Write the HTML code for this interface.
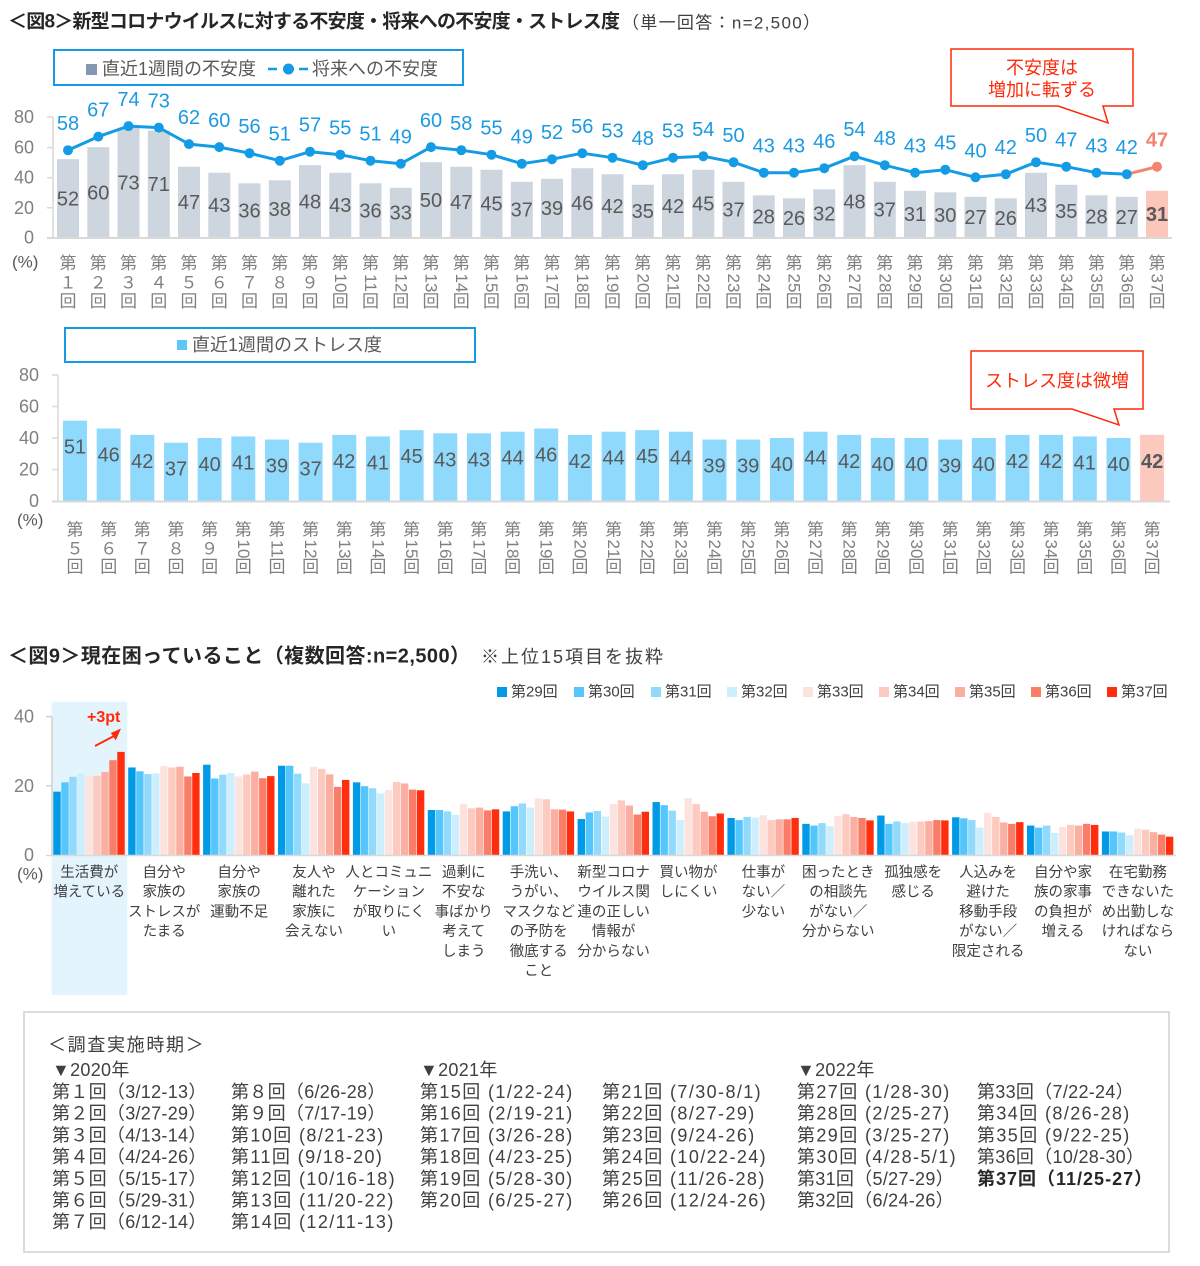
<!DOCTYPE html>
<html><head><meta charset="utf-8">
<style>
body{margin:0;background:#fff}
svg{display:block}
text,tspan{font-family:"Liberation Sans","Noto Sans CJK JP",sans-serif;dominant-baseline:central}
.t{font-size:19px;font-weight:bold;fill:#262626}
.st{font-size:17px;fill:#404040}
.ay{font-size:18px;fill:#808080;text-anchor:end}
.pc{font-size:17px;fill:#595959}
.xl{font-size:17px;fill:#808080;text-anchor:middle}
.rn{font-size:17px;fill:#808080;text-anchor:middle}
.bl{font-size:20px;fill:#595959;text-anchor:middle}
.ll{font-size:20px;fill:#1a9ae2;text-anchor:middle}
.lg{font-size:18px;fill:#595959}
.co{font-size:18px;fill:#ff2a0a;text-anchor:middle}
.fl{font-size:14.5px;fill:#404040;text-anchor:middle}
.fg{font-size:15px;fill:#404040}
.sc{font-size:18px;fill:#404040;letter-spacing:0.3px}
.sh{font-size:18px;fill:#404040;letter-spacing:1.4px}
.s0{fill:#009ae6}.s1{fill:#55c6fb}.s2{fill:#92dafc}.s3{fill:#cdeefd}.s4{fill:#fde3de}.s5{fill:#fdcabf}.s6{fill:#fbafa0}.s7{fill:#f97d68}.s8{fill:#ff2e0e}
</style></head><body>
<svg width="1200" height="1266" viewBox="0 0 1200 1266" xmlns="http://www.w3.org/2000/svg">
<rect width="1200" height="1266" fill="#fff"/>

<!-- ===== Title Fig 8 ===== -->
<text class="t" x="8" y="22" textLength="612" lengthAdjust="spacing">＜図8＞新型コロナウイルスに対する不安度・将来への不安度・ストレス度</text>
<text class="st" x="622" y="23" textLength="198" lengthAdjust="spacing">（単一回答：n=2,500）</text>

<!-- legend top -->
<rect x="54" y="50" width="409" height="35" fill="#fff" stroke="#149be6" stroke-width="2"/>
<rect x="86" y="64" width="11" height="11" fill="#8497b0"/>
<text class="lg" x="102" y="69">直近1週間の不安度</text>
<line x1="268" y1="69" x2="277" y2="69" stroke="#149be6" stroke-width="2.5"/>
<circle cx="288.5" cy="69" r="5.5" fill="#149be6"/>
<line x1="299" y1="69" x2="308" y2="69" stroke="#149be6" stroke-width="2.5"/>
<text class="lg" x="312" y="69">将来への不安度</text>

<!-- y axis top -->
<text class="ay" x="34" y="117">80</text>
<text class="ay" x="34" y="147.6">60</text>
<text class="ay" x="34" y="177.7">40</text>
<text class="ay" x="34" y="207.8">20</text>
<text class="ay" x="34" y="237.5">0</text>
<text class="pc" x="12" y="262">(%)</text>

<!-- top bars -->
<g transform="translate(0 237.5) scale(1 -1.506)" fill="#cdd6df">
<rect x="57" width="22" height="52"/>
<rect x="87.3" width="22" height="60"/>
<rect x="117.5" width="22" height="73"/>
<rect x="147.8" width="22" height="71"/>
<rect x="178" width="22" height="47"/>
<rect x="208.3" width="22" height="43"/>
<rect x="238.5" width="22" height="36"/>
<rect x="268.8" width="22" height="38"/>
<rect x="299" width="22" height="48"/>
<rect x="329.3" width="22" height="43"/>
<rect x="359.5" width="22" height="36"/>
<rect x="389.8" width="22" height="33"/>
<rect x="420" width="22" height="50"/>
<rect x="450.3" width="22" height="47"/>
<rect x="480.5" width="22" height="45"/>
<rect x="510.8" width="22" height="37"/>
<rect x="541" width="22" height="39"/>
<rect x="571.3" width="22" height="46"/>
<rect x="601.5" width="22" height="42"/>
<rect x="631.8" width="22" height="35"/>
<rect x="662" width="22" height="42"/>
<rect x="692.3" width="22" height="45"/>
<rect x="722.5" width="22" height="37"/>
<rect x="752.8" width="22" height="28"/>
<rect x="783" width="22" height="26"/>
<rect x="813.3" width="22" height="32"/>
<rect x="843.5" width="22" height="48"/>
<rect x="873.8" width="22" height="37"/>
<rect x="904" width="22" height="31"/>
<rect x="934.3" width="22" height="30"/>
<rect x="964.5" width="22" height="27"/>
<rect x="994.8" width="22" height="26"/>
<rect x="1025" width="22" height="43"/>
<rect x="1055.3" width="22" height="35"/>
<rect x="1085.5" width="22" height="28"/>
<rect x="1115.8" width="22" height="27"/>
<rect x="1146" width="22" height="31" fill="#fcc6ba"/>
</g>
<!-- top axes -->
<line x1="53" y1="117" x2="53" y2="238" stroke="#d9d9d9" stroke-width="1.5"/>
<g stroke="#d9d9d9" stroke-width="1.5"><line x1="47" y1="117" x2="53" y2="117"/><line x1="47" y1="147.6" x2="53" y2="147.6"/><line x1="47" y1="177.7" x2="53" y2="177.7"/><line x1="47" y1="207.8" x2="53" y2="207.8"/></g>
<line x1="47" y1="238" x2="1172" y2="238" stroke="#d9d9d9" stroke-width="2"/>

<!-- bar labels top -->
<g class="bl">
<text class="bl" x="68" y="199.4">52</text>
<text class="bl" x="98.3" y="193.3">60</text>
<text class="bl" x="128.5" y="183.6">73</text>
<text class="bl" x="158.8" y="185.1">71</text>
<text class="bl" x="189" y="203.1">47</text>
<text class="bl" x="219.3" y="206.1">43</text>
<text class="bl" x="249.5" y="211.4">36</text>
<text class="bl" x="279.8" y="209.9">38</text>
<text class="bl" x="310" y="202.4">48</text>
<text class="bl" x="340.3" y="206.1">43</text>
<text class="bl" x="370.5" y="211.4">36</text>
<text class="bl" x="400.8" y="213.7">33</text>
<text class="bl" x="431" y="200.9">50</text>
<text class="bl" x="461.3" y="203.1">47</text>
<text class="bl" x="491.5" y="204.6">45</text>
<text class="bl" x="521.8" y="210.7">37</text>
<text class="bl" x="552" y="209.2">39</text>
<text class="bl" x="582.3" y="203.9">46</text>
<text class="bl" x="612.5" y="206.9">42</text>
<text class="bl" x="642.8" y="212.2">35</text>
<text class="bl" x="673" y="206.9">42</text>
<text class="bl" x="703.3" y="204.6">45</text>
<text class="bl" x="733.5" y="210.7">37</text>
<text class="bl" x="763.8" y="217.4">28</text>
<text class="bl" x="794" y="218.9">26</text>
<text class="bl" x="824.3" y="214.4">32</text>
<text class="bl" x="854.5" y="202.4">48</text>
<text class="bl" x="884.8" y="210.7">37</text>
<text class="bl" x="915" y="215.2">31</text>
<text class="bl" x="945.3" y="215.9">30</text>
<text class="bl" x="975.5" y="218.2">27</text>
<text class="bl" x="1005.8" y="218.9">26</text>
<text class="bl" x="1036" y="206.1">43</text>
<text class="bl" x="1066.3" y="212.2">35</text>
<text class="bl" x="1096.5" y="217.4">28</text>
<text class="bl" x="1126.8" y="218.2">27</text>
<text class="bl" x="1157" y="215.2" font-weight="bold">31</text>
</g>

<!-- line -->
<polyline fill="none" stroke="#149be6" stroke-width="3" stroke-linejoin="round" points="68,150.2 98.3,136.6 128.5,126.1 158.8,127.6 189,144.1 219.3,147.1 249.5,153.2 279.8,160.7 310,151.7 340.3,154.7 370.5,160.7 400.8,163.7 431,147.1 461.3,150.2 491.5,154.7 521.8,163.7 552,159.2 582.3,153.2 612.5,157.7 642.8,165.2 673,157.7 703.3,156.2 733.5,162.2 763.8,172.7 794,172.7 824.3,168.2 854.5,156.2 884.8,165.2 915,172.7 945.3,169.7 975.5,177.3 1005.8,174.2 1036,162.2 1066.3,166.7 1096.5,172.7 1126.8,174.2"/>
<line x1="1126.8" y1="174.2" x2="1157" y2="166.7" stroke="#f4846f" stroke-width="3"/>
<g fill="#149be6">
<circle cx="68" cy="150.2" r="5"/><circle cx="98.3" cy="136.6" r="5"/><circle cx="128.5" cy="126.1" r="5"/><circle cx="158.8" cy="127.6" r="5"/><circle cx="189" cy="144.1" r="5"/><circle cx="219.3" cy="147.1" r="5"/><circle cx="249.5" cy="153.2" r="5"/><circle cx="279.8" cy="160.7" r="5"/><circle cx="310" cy="151.7" r="5"/><circle cx="340.3" cy="154.7" r="5"/><circle cx="370.5" cy="160.7" r="5"/><circle cx="400.8" cy="163.7" r="5"/><circle cx="431" cy="147.1" r="5"/><circle cx="461.3" cy="150.2" r="5"/><circle cx="491.5" cy="154.7" r="5"/><circle cx="521.8" cy="163.7" r="5"/><circle cx="552" cy="159.2" r="5"/><circle cx="582.3" cy="153.2" r="5"/><circle cx="612.5" cy="157.7" r="5"/><circle cx="642.8" cy="165.2" r="5"/><circle cx="673" cy="157.7" r="5"/><circle cx="703.3" cy="156.2" r="5"/><circle cx="733.5" cy="162.2" r="5"/><circle cx="763.8" cy="172.7" r="5"/><circle cx="794" cy="172.7" r="5"/><circle cx="824.3" cy="168.2" r="5"/><circle cx="854.5" cy="156.2" r="5"/><circle cx="884.8" cy="165.2" r="5"/><circle cx="915" cy="172.7" r="5"/><circle cx="945.3" cy="169.7" r="5"/><circle cx="975.5" cy="177.3" r="5"/><circle cx="1005.8" cy="174.2" r="5"/><circle cx="1036" cy="162.2" r="5"/><circle cx="1066.3" cy="166.7" r="5"/><circle cx="1096.5" cy="172.7" r="5"/><circle cx="1126.8" cy="174.2" r="5"/>
</g>
<circle cx="1157" cy="166.7" r="5" fill="#f4846f"/>

<!-- line labels -->
<text class="ll" x="68" y="124.2">58</text>
<text class="ll" x="98.3" y="110.6">67</text>
<text class="ll" x="128.5" y="100.1">74</text>
<text class="ll" x="158.8" y="101.6">73</text>
<text class="ll" x="189" y="118.1">62</text>
<text class="ll" x="219.3" y="121.1">60</text>
<text class="ll" x="249.5" y="127.2">56</text>
<text class="ll" x="279.8" y="134.7">51</text>
<text class="ll" x="310" y="125.7">57</text>
<text class="ll" x="340.3" y="128.7">55</text>
<text class="ll" x="370.5" y="134.7">51</text>
<text class="ll" x="400.8" y="137.7">49</text>
<text class="ll" x="431" y="121.1">60</text>
<text class="ll" x="461.3" y="124.2">58</text>
<text class="ll" x="491.5" y="128.7">55</text>
<text class="ll" x="521.8" y="137.7">49</text>
<text class="ll" x="552" y="133.2">52</text>
<text class="ll" x="582.3" y="127.2">56</text>
<text class="ll" x="612.5" y="131.7">53</text>
<text class="ll" x="642.8" y="139.2">48</text>
<text class="ll" x="673" y="131.7">53</text>
<text class="ll" x="703.3" y="130.2">54</text>
<text class="ll" x="733.5" y="136.2">50</text>
<text class="ll" x="763.8" y="146.7">43</text>
<text class="ll" x="794" y="146.7">43</text>
<text class="ll" x="824.3" y="142.2">46</text>
<text class="ll" x="854.5" y="130.2">54</text>
<text class="ll" x="884.8" y="139.2">48</text>
<text class="ll" x="915" y="146.7">43</text>
<text class="ll" x="945.3" y="143.7">45</text>
<text class="ll" x="975.5" y="151.3">40</text>
<text class="ll" x="1005.8" y="148.2">42</text>
<text class="ll" x="1036" y="136.2">50</text>
<text class="ll" x="1066.3" y="140.7">47</text>
<text class="ll" x="1096.5" y="146.7">43</text>
<text class="ll" x="1126.8" y="148.2">42</text>
<text class="ll" x="1157" y="140.7" font-weight="bold" style="fill:#f4846f">47</text>

<!-- top x labels -->
<text class="xl" y="263.5" x="68 98.3 128.5 158.8 189 219.3 249.5 279.8 310 340.3 370.5 400.8 431 461.3 491.5 521.8 552 582.3 612.5 642.8 673 703.3 733.5 763.8 794 824.3 854.5 884.8 915 945.3 975.5 1005.8 1036 1066.3 1096.5 1126.8 1157">第第第第第第第第第第第第第第第第第第第第第第第第第第第第第第第第第第第第第</text>
<text class="xl" y="283" x="68 98.3 128.5 158.8 189 219.3 249.5 279.8 310">１２３４５６７８９</text>
<text class="rn" transform="translate(340.3 283) rotate(90)">10</text>
<text class="rn" transform="translate(370.5 283) rotate(90)">11</text>
<text class="rn" transform="translate(400.8 283) rotate(90)">12</text>
<text class="rn" transform="translate(431 283) rotate(90)">13</text>
<text class="rn" transform="translate(461.3 283) rotate(90)">14</text>
<text class="rn" transform="translate(491.5 283) rotate(90)">15</text>
<text class="rn" transform="translate(521.8 283) rotate(90)">16</text>
<text class="rn" transform="translate(552 283) rotate(90)">17</text>
<text class="rn" transform="translate(582.3 283) rotate(90)">18</text>
<text class="rn" transform="translate(612.5 283) rotate(90)">19</text>
<text class="rn" transform="translate(642.8 283) rotate(90)">20</text>
<text class="rn" transform="translate(673 283) rotate(90)">21</text>
<text class="rn" transform="translate(703.3 283) rotate(90)">22</text>
<text class="rn" transform="translate(733.5 283) rotate(90)">23</text>
<text class="rn" transform="translate(763.8 283) rotate(90)">24</text>
<text class="rn" transform="translate(794 283) rotate(90)">25</text>
<text class="rn" transform="translate(824.3 283) rotate(90)">26</text>
<text class="rn" transform="translate(854.5 283) rotate(90)">27</text>
<text class="rn" transform="translate(884.8 283) rotate(90)">28</text>
<text class="rn" transform="translate(915 283) rotate(90)">29</text>
<text class="rn" transform="translate(945.3 283) rotate(90)">30</text>
<text class="rn" transform="translate(975.5 283) rotate(90)">31</text>
<text class="rn" transform="translate(1005.8 283) rotate(90)">32</text>
<text class="rn" transform="translate(1036 283) rotate(90)">33</text>
<text class="rn" transform="translate(1066.3 283) rotate(90)">34</text>
<text class="rn" transform="translate(1096.5 283) rotate(90)">35</text>
<text class="rn" transform="translate(1126.8 283) rotate(90)">36</text>
<text class="rn" transform="translate(1157 283) rotate(90)">37</text>
<text class="xl" y="301.5" x="68 98.3 128.5 158.8 189 219.3 249.5 279.8 310 340.3 370.5 400.8 431 461.3 491.5 521.8 552 582.3 612.5 642.8 673 703.3 733.5 763.8 794 824.3 854.5 884.8 915 945.3 975.5 1005.8 1036 1066.3 1096.5 1126.8 1157">回回回回回回回回回回回回回回回回回回回回回回回回回回回回回回回回回回回回回</text>

<!-- callout 1 -->
<path d="M951,49 H1133 V106 H1103 L1108,123 L1058,106 H951 Z" fill="#fff" stroke="#ff2a0a" stroke-width="1.5"/>
<text class="co" x="1042" y="68">不安度は</text>
<text class="co" x="1042" y="90">増加に転ずる</text>

<!-- ===== Stress chart ===== -->
<rect x="65" y="328" width="410" height="34" fill="#fff" stroke="#149be6" stroke-width="2"/>
<rect x="177" y="340" width="10" height="10" fill="#5bc8f8"/>
<text class="lg" x="192" y="345">直近1週間のストレス度</text>

<text class="ay" x="39" y="375">80</text>
<text class="ay" x="39" y="406.5">60</text>
<text class="ay" x="39" y="438">40</text>
<text class="ay" x="39" y="469.5">20</text>
<text class="ay" x="39" y="501">0</text>
<text class="pc" x="17" y="520">(%)</text>

<g transform="translate(0 501) scale(1 -1.575)" fill="#8fd9fc">
<rect x="63" width="24" height="51"/>
<rect x="96.7" width="24" height="46"/>
<rect x="130.3" width="24" height="42"/>
<rect x="164" width="24" height="37"/>
<rect x="197.6" width="24" height="40"/>
<rect x="231.3" width="24" height="41"/>
<rect x="265" width="24" height="39"/>
<rect x="298.6" width="24" height="37"/>
<rect x="332.3" width="24" height="42"/>
<rect x="365.9" width="24" height="41"/>
<rect x="399.6" width="24" height="45"/>
<rect x="433.3" width="24" height="43"/>
<rect x="466.9" width="24" height="43"/>
<rect x="500.6" width="24" height="44"/>
<rect x="534.2" width="24" height="46"/>
<rect x="567.9" width="24" height="42"/>
<rect x="601.6" width="24" height="44"/>
<rect x="635.2" width="24" height="45"/>
<rect x="668.9" width="24" height="44"/>
<rect x="702.5" width="24" height="39"/>
<rect x="736.2" width="24" height="39"/>
<rect x="769.9" width="24" height="40"/>
<rect x="803.5" width="24" height="44"/>
<rect x="837.2" width="24" height="42"/>
<rect x="870.8" width="24" height="40"/>
<rect x="904.5" width="24" height="40"/>
<rect x="938.2" width="24" height="39"/>
<rect x="971.8" width="24" height="40"/>
<rect x="1005.5" width="24" height="42"/>
<rect x="1039.1" width="24" height="42"/>
<rect x="1072.8" width="24" height="41"/>
<rect x="1106.5" width="24" height="40"/>
<rect x="1140.1" width="24" height="42" fill="#fcc9bf"/>
</g>
<line x1="58" y1="375" x2="58" y2="501" stroke="#d9d9d9" stroke-width="1.5"/>
<g stroke="#d9d9d9" stroke-width="1.5"><line x1="52" y1="375" x2="58" y2="375"/><line x1="52" y1="406.5" x2="58" y2="406.5"/><line x1="52" y1="438" x2="58" y2="438"/><line x1="52" y1="469.5" x2="58" y2="469.5"/></g>
<line x1="52" y1="501.5" x2="1170" y2="501.5" stroke="#d9d9d9" stroke-width="2"/>

<text class="bl" x="75" y="447.7">51</text>
<text class="bl" x="108.7" y="455.5">46</text>
<text class="bl" x="142.3" y="461.8">42</text>
<text class="bl" x="176" y="469.7">37</text>
<text class="bl" x="209.6" y="465">40</text>
<text class="bl" x="243.3" y="463.4">41</text>
<text class="bl" x="277" y="466.6">39</text>
<text class="bl" x="310.6" y="469.7">37</text>
<text class="bl" x="344.3" y="461.8">42</text>
<text class="bl" x="377.9" y="463.4">41</text>
<text class="bl" x="411.6" y="457.1">45</text>
<text class="bl" x="445.3" y="460.3">43</text>
<text class="bl" x="478.9" y="460.3">43</text>
<text class="bl" x="512.6" y="458.7">44</text>
<text class="bl" x="546.2" y="455.5">46</text>
<text class="bl" x="579.9" y="461.8">42</text>
<text class="bl" x="613.6" y="458.7">44</text>
<text class="bl" x="647.2" y="457.1">45</text>
<text class="bl" x="680.9" y="458.7">44</text>
<text class="bl" x="714.5" y="466.6">39</text>
<text class="bl" x="748.2" y="466.6">39</text>
<text class="bl" x="781.9" y="465">40</text>
<text class="bl" x="815.5" y="458.7">44</text>
<text class="bl" x="849.2" y="461.8">42</text>
<text class="bl" x="882.8" y="465">40</text>
<text class="bl" x="916.5" y="465">40</text>
<text class="bl" x="950.2" y="466.6">39</text>
<text class="bl" x="983.8" y="465">40</text>
<text class="bl" x="1017.5" y="461.8">42</text>
<text class="bl" x="1051.1" y="461.8">42</text>
<text class="bl" x="1084.8" y="463.4">41</text>
<text class="bl" x="1118.5" y="465">40</text>
<text class="bl" x="1152.1" y="461.8" font-weight="bold">42</text>

<text class="xl" y="530" x="75 108.7 142.3 176 209.6 243.3 277 310.6 344.3 377.9 411.6 445.3 478.9 512.6 546.2 579.9 613.6 647.2 680.9 714.5 748.2 781.9 815.5 849.2 882.8 916.5 950.2 983.8 1017.5 1051.1 1084.8 1118.5 1152.1">第第第第第第第第第第第第第第第第第第第第第第第第第第第第第第第第第</text>
<text class="xl" y="549" x="75 108.7 142.3 176 209.6">５６７８９</text>
<text class="rn" transform="translate(243.3 549) rotate(90)">10</text>
<text class="rn" transform="translate(277 549) rotate(90)">11</text>
<text class="rn" transform="translate(310.6 549) rotate(90)">12</text>
<text class="rn" transform="translate(344.3 549) rotate(90)">13</text>
<text class="rn" transform="translate(377.9 549) rotate(90)">14</text>
<text class="rn" transform="translate(411.6 549) rotate(90)">15</text>
<text class="rn" transform="translate(445.3 549) rotate(90)">16</text>
<text class="rn" transform="translate(478.9 549) rotate(90)">17</text>
<text class="rn" transform="translate(512.6 549) rotate(90)">18</text>
<text class="rn" transform="translate(546.2 549) rotate(90)">19</text>
<text class="rn" transform="translate(579.9 549) rotate(90)">20</text>
<text class="rn" transform="translate(613.6 549) rotate(90)">21</text>
<text class="rn" transform="translate(647.2 549) rotate(90)">22</text>
<text class="rn" transform="translate(680.9 549) rotate(90)">23</text>
<text class="rn" transform="translate(714.5 549) rotate(90)">24</text>
<text class="rn" transform="translate(748.2 549) rotate(90)">25</text>
<text class="rn" transform="translate(781.9 549) rotate(90)">26</text>
<text class="rn" transform="translate(815.5 549) rotate(90)">27</text>
<text class="rn" transform="translate(849.2 549) rotate(90)">28</text>
<text class="rn" transform="translate(882.8 549) rotate(90)">29</text>
<text class="rn" transform="translate(916.5 549) rotate(90)">30</text>
<text class="rn" transform="translate(950.2 549) rotate(90)">31</text>
<text class="rn" transform="translate(983.8 549) rotate(90)">32</text>
<text class="rn" transform="translate(1017.5 549) rotate(90)">33</text>
<text class="rn" transform="translate(1051.1 549) rotate(90)">34</text>
<text class="rn" transform="translate(1084.8 549) rotate(90)">35</text>
<text class="rn" transform="translate(1118.5 549) rotate(90)">36</text>
<text class="rn" transform="translate(1152.1 549) rotate(90)">37</text>
<text class="xl" y="567" x="75 108.7 142.3 176 209.6 243.3 277 310.6 344.3 377.9 411.6 445.3 478.9 512.6 546.2 579.9 613.6 647.2 680.9 714.5 748.2 781.9 815.5 849.2 882.8 916.5 950.2 983.8 1017.5 1051.1 1084.8 1118.5 1152.1">回回回回回回回回回回回回回回回回回回回回回回回回回回回回回回回回回</text>

<!-- callout 2 -->
<path d="M971,351 H1143 V409 H1114 L1119,425 L1072,409 H971 Z" fill="#fff" stroke="#ff2a0a" stroke-width="1.5"/>
<text class="co" x="1057" y="381">ストレス度は微増</text>

<!-- ===== Fig 9 ===== -->
<text class="t" x="8" y="656.5" font-size="20" style="font-size:20px" textLength="462" lengthAdjust="spacing">＜図9＞現在困っていること（複数回答:n=2,500）</text>
<text class="st" x="481" y="657" style="font-size:18px" textLength="182" lengthAdjust="spacing">※上位15項目を抜粋</text>

<!-- legend -->
<rect x="497" y="687" width="10" height="10" class="s0"/><text class="fg" x="511" y="692">第29回</text>
<rect x="574" y="687" width="10" height="10" class="s1"/><text class="fg" x="588" y="692">第30回</text>
<rect x="651" y="687" width="10" height="10" class="s2"/><text class="fg" x="665" y="692">第31回</text>
<rect x="727" y="687" width="10" height="10" class="s3"/><text class="fg" x="741" y="692">第32回</text>
<rect x="803" y="687" width="10" height="10" class="s4"/><text class="fg" x="817" y="692">第33回</text>
<rect x="879" y="687" width="10" height="10" class="s5"/><text class="fg" x="893" y="692">第34回</text>
<rect x="955" y="687" width="10" height="10" class="s6"/><text class="fg" x="969" y="692">第35回</text>
<rect x="1031" y="687" width="10" height="10" class="s7"/><text class="fg" x="1045" y="692">第36回</text>
<rect x="1107" y="687" width="10" height="10" class="s8"/><text class="fg" x="1121" y="692">第37回</text>

<!-- highlight -->
<rect x="51.7" y="701.7" width="75.6" height="293.3" fill="#e4f4fd"/>

<text class="ay" x="34" y="716.6">40</text>
<text class="ay" x="34" y="785.8">20</text>
<text class="ay" x="34" y="855">0</text>
<text class="pc" x="17" y="874">(%)</text>

<!-- bars fig9 -->
<g transform="translate(53.3 855) scale(1 -3.46)">
<rect x="0" width="7.4" height="18.3" class="s0"/><rect x="8" width="7.4" height="21" class="s1"/><rect x="16" width="7.4" height="22.6" class="s2"/><rect x="24" width="7.4" height="23.6" class="s3"/><rect x="32" width="7.4" height="22.9" class="s4"/><rect x="40" width="7.4" height="22.9" class="s5"/><rect x="48" width="7.4" height="24" class="s6"/><rect x="56" width="7.4" height="27.4" class="s7"/><rect x="64" width="7.4" height="29.8" class="s8"/>
</g>
<g transform="translate(128.2 855) scale(1 -3.46)">
<rect x="0" width="7.4" height="25.3" class="s0"/><rect x="8" width="7.4" height="24.2" class="s1"/><rect x="16" width="7.4" height="23.4" class="s2"/><rect x="24" width="7.4" height="23.6" class="s3"/><rect x="32" width="7.4" height="25.7" class="s4"/><rect x="40" width="7.4" height="25.3" class="s5"/><rect x="48" width="7.4" height="25.5" class="s6"/><rect x="56" width="7.4" height="22.7" class="s7"/><rect x="64" width="7.4" height="23.7" class="s8"/>
</g>
<g transform="translate(203.1 855) scale(1 -3.46)">
<rect x="0" width="7.4" height="26.1" class="s0"/><rect x="8" width="7.4" height="22.1" class="s1"/><rect x="16" width="7.4" height="23.2" class="s2"/><rect x="24" width="7.4" height="23.7" class="s3"/><rect x="32" width="7.4" height="22.7" class="s4"/><rect x="40" width="7.4" height="23.3" class="s5"/><rect x="48" width="7.4" height="24.1" class="s6"/><rect x="56" width="7.4" height="22.2" class="s7"/><rect x="64" width="7.4" height="22.8" class="s8"/>
</g>
<g transform="translate(278 855) scale(1 -3.46)">
<rect x="0" width="7.4" height="25.8" class="s0"/><rect x="8" width="7.4" height="25.8" class="s1"/><rect x="16" width="7.4" height="23.5" class="s2"/><rect x="24" width="7.4" height="20.7" class="s3"/><rect x="32" width="7.4" height="25.5" class="s4"/><rect x="40" width="7.4" height="24.9" class="s5"/><rect x="48" width="7.4" height="23.3" class="s6"/><rect x="56" width="7.4" height="19.7" class="s7"/><rect x="64" width="7.4" height="21.7" class="s8"/>
</g>
<g transform="translate(352.9 855) scale(1 -3.46)">
<rect x="0" width="7.4" height="21" class="s0"/><rect x="8" width="7.4" height="19.9" class="s1"/><rect x="16" width="7.4" height="19.3" class="s2"/><rect x="24" width="7.4" height="17.8" class="s3"/><rect x="32" width="7.4" height="18.8" class="s4"/><rect x="40" width="7.4" height="21.1" class="s5"/><rect x="48" width="7.4" height="20.7" class="s6"/><rect x="56" width="7.4" height="18.9" class="s7"/><rect x="64" width="7.4" height="18.7" class="s8"/>
</g>
<g transform="translate(427.8 855) scale(1 -3.46)">
<rect x="0" width="7.4" height="13" class="s0"/><rect x="8" width="7.4" height="13" class="s1"/><rect x="16" width="7.4" height="12.6" class="s2"/><rect x="24" width="7.4" height="11.6" class="s3"/><rect x="32" width="7.4" height="14.7" class="s4"/><rect x="40" width="7.4" height="13.5" class="s5"/><rect x="48" width="7.4" height="13.7" class="s6"/><rect x="56" width="7.4" height="12.9" class="s7"/><rect x="64" width="7.4" height="13.2" class="s8"/>
</g>
<g transform="translate(502.7 855) scale(1 -3.46)">
<rect x="0" width="7.4" height="12.6" class="s0"/><rect x="8" width="7.4" height="14.1" class="s1"/><rect x="16" width="7.4" height="14.9" class="s2"/><rect x="24" width="7.4" height="13.7" class="s3"/><rect x="32" width="7.4" height="16.4" class="s4"/><rect x="40" width="7.4" height="16.1" class="s5"/><rect x="48" width="7.4" height="13.2" class="s6"/><rect x="56" width="7.4" height="13.1" class="s7"/><rect x="64" width="7.4" height="12.6" class="s8"/>
</g>
<g transform="translate(577.6 855) scale(1 -3.46)">
<rect x="0" width="7.4" height="10.4" class="s0"/><rect x="8" width="7.4" height="12.3" class="s1"/><rect x="16" width="7.4" height="12.7" class="s2"/><rect x="24" width="7.4" height="11.1" class="s3"/><rect x="32" width="7.4" height="14.7" class="s4"/><rect x="40" width="7.4" height="15.8" class="s5"/><rect x="48" width="7.4" height="14.3" class="s6"/><rect x="56" width="7.4" height="11.7" class="s7"/><rect x="64" width="7.4" height="12.5" class="s8"/>
</g>
<g transform="translate(652.5 855) scale(1 -3.46)">
<rect x="0" width="7.4" height="15.3" class="s0"/><rect x="8" width="7.4" height="14.4" class="s1"/><rect x="16" width="7.4" height="12.8" class="s2"/><rect x="24" width="7.4" height="10.1" class="s3"/><rect x="32" width="7.4" height="16.4" class="s4"/><rect x="40" width="7.4" height="14.7" class="s5"/><rect x="48" width="7.4" height="12.5" class="s6"/><rect x="56" width="7.4" height="11.2" class="s7"/><rect x="64" width="7.4" height="12" class="s8"/>
</g>
<g transform="translate(727.4 855) scale(1 -3.46)">
<rect x="0" width="7.4" height="10.7" class="s0"/><rect x="8" width="7.4" height="10.1" class="s1"/><rect x="16" width="7.4" height="11" class="s2"/><rect x="24" width="7.4" height="10.8" class="s3"/><rect x="32" width="7.4" height="11.5" class="s4"/><rect x="40" width="7.4" height="10.1" class="s5"/><rect x="48" width="7.4" height="10.3" class="s6"/><rect x="56" width="7.4" height="10.3" class="s7"/><rect x="64" width="7.4" height="10.7" class="s8"/>
</g>
<g transform="translate(802.3 855) scale(1 -3.46)">
<rect x="0" width="7.4" height="9" class="s0"/><rect x="8" width="7.4" height="8.5" class="s1"/><rect x="16" width="7.4" height="9.2" class="s2"/><rect x="24" width="7.4" height="8.3" class="s3"/><rect x="32" width="7.4" height="11.3" class="s4"/><rect x="40" width="7.4" height="11.8" class="s5"/><rect x="48" width="7.4" height="11" class="s6"/><rect x="56" width="7.4" height="10.7" class="s7"/><rect x="64" width="7.4" height="10" class="s8"/>
</g>
<g transform="translate(877.2 855) scale(1 -3.46)">
<rect x="0" width="7.4" height="11.4" class="s0"/><rect x="8" width="7.4" height="9" class="s1"/><rect x="16" width="7.4" height="9.7" class="s2"/><rect x="24" width="7.4" height="9.2" class="s3"/><rect x="32" width="7.4" height="9.6" class="s4"/><rect x="40" width="7.4" height="9.7" class="s5"/><rect x="48" width="7.4" height="9.8" class="s6"/><rect x="56" width="7.4" height="10.1" class="s7"/><rect x="64" width="7.4" height="10" class="s8"/>
</g>
<g transform="translate(952.1 855) scale(1 -3.46)">
<rect x="0" width="7.4" height="10.9" class="s0"/><rect x="8" width="7.4" height="10.6" class="s1"/><rect x="16" width="7.4" height="10.1" class="s2"/><rect x="24" width="7.4" height="7.9" class="s3"/><rect x="32" width="7.4" height="12.2" class="s4"/><rect x="40" width="7.4" height="11" class="s5"/><rect x="48" width="7.4" height="9.4" class="s6"/><rect x="56" width="7.4" height="9" class="s7"/><rect x="64" width="7.4" height="9.5" class="s8"/>
</g>
<g transform="translate(1027 855) scale(1 -3.46)">
<rect x="0" width="7.4" height="8.5" class="s0"/><rect x="8" width="7.4" height="7.9" class="s1"/><rect x="16" width="7.4" height="8.5" class="s2"/><rect x="24" width="7.4" height="6.4" class="s3"/><rect x="32" width="7.4" height="8.1" class="s4"/><rect x="40" width="7.4" height="8.7" class="s5"/><rect x="48" width="7.4" height="8.5" class="s6"/><rect x="56" width="7.4" height="9" class="s7"/><rect x="64" width="7.4" height="8.7" class="s8"/>
</g>
<g transform="translate(1101.9 855) scale(1 -3.46)">
<rect x="0" width="7.4" height="6.8" class="s0"/><rect x="8" width="7.4" height="6.8" class="s1"/><rect x="16" width="7.4" height="6.5" class="s2"/><rect x="24" width="7.4" height="5.7" class="s3"/><rect x="32" width="7.4" height="7.6" class="s4"/><rect x="40" width="7.4" height="7.3" class="s5"/><rect x="48" width="7.4" height="6.6" class="s6"/><rect x="56" width="7.4" height="5.9" class="s7"/><rect x="64" width="7.4" height="5.3" class="s8"/>
</g>

<line x1="52" y1="716.6" x2="52" y2="855" stroke="#d0d0d0" stroke-width="1.5"/>
<g stroke="#d0d0d0" stroke-width="1.5"><line x1="46" y1="716.6" x2="52" y2="716.6"/><line x1="46" y1="785.8" x2="52" y2="785.8"/></g>
<line x1="46" y1="855.5" x2="1176" y2="855.5" stroke="#d9d9d9" stroke-width="1.5"/>

<!-- +3pt -->
<text x="87" y="717.5" font-size="16" font-weight="bold" fill="#ff2a0a">+3pt</text>
<line x1="95" y1="746" x2="114" y2="736" stroke="#ff2a0a" stroke-width="2"/>
<polygon points="121,728.5 115.8,740.4 110.8,733" fill="#ff2a0a"/>

<!-- fig9 x labels -->
<text class="fl"><tspan x="89.3" y="873">生活費が</tspan><tspan x="89.3" y="892.7">増えている</tspan></text>
<text class="fl"><tspan x="164.2" y="873">自分や</tspan><tspan x="164.2" y="892.7">家族の</tspan><tspan x="164.2" y="912.4">ストレスが</tspan><tspan x="164.2" y="932.1">たまる</tspan></text>
<text class="fl"><tspan x="239.1" y="873">自分や</tspan><tspan x="239.1" y="892.7">家族の</tspan><tspan x="239.1" y="912.4">運動不足</tspan></text>
<text class="fl"><tspan x="314" y="873">友人や</tspan><tspan x="314" y="892.7">離れた</tspan><tspan x="314" y="912.4">家族に</tspan><tspan x="314" y="932.1">会えない</tspan></text>
<text class="fl"><tspan x="388.9" y="873">人とコミュニ</tspan><tspan x="388.9" y="892.7">ケーション</tspan><tspan x="388.9" y="912.4">が取りにく</tspan><tspan x="388.9" y="932.1">い</tspan></text>
<text class="fl"><tspan x="463.8" y="873">過剰に</tspan><tspan x="463.8" y="892.7">不安な</tspan><tspan x="463.8" y="912.4">事ばかり</tspan><tspan x="463.8" y="932.1">考えて</tspan><tspan x="463.8" y="951.8">しまう</tspan></text>
<text class="fl"><tspan x="538.7" y="873">手洗い、</tspan><tspan x="538.7" y="892.7">うがい、</tspan><tspan x="538.7" y="912.4">マスクなど</tspan><tspan x="538.7" y="932.1">の予防を</tspan><tspan x="538.7" y="951.8">徹底する</tspan><tspan x="538.7" y="971.5">こと</tspan></text>
<text class="fl"><tspan x="613.6" y="873">新型コロナ</tspan><tspan x="613.6" y="892.7">ウイルス関</tspan><tspan x="613.6" y="912.4">連の正しい</tspan><tspan x="613.6" y="932.1">情報が</tspan><tspan x="613.6" y="951.8">分からない</tspan></text>
<text class="fl"><tspan x="688.5" y="873">買い物が</tspan><tspan x="688.5" y="892.7">しにくい</tspan></text>
<text class="fl"><tspan x="763.4" y="873">仕事が</tspan><tspan x="763.4" y="892.7">ない／</tspan><tspan x="763.4" y="912.4">少ない</tspan></text>
<text class="fl"><tspan x="838.3" y="873">困ったとき</tspan><tspan x="838.3" y="892.7">の相談先</tspan><tspan x="838.3" y="912.4">がない／</tspan><tspan x="838.3" y="932.1">分からない</tspan></text>
<text class="fl"><tspan x="913.2" y="873">孤独感を</tspan><tspan x="913.2" y="892.7">感じる</tspan></text>
<text class="fl"><tspan x="988.1" y="873">人込みを</tspan><tspan x="988.1" y="892.7">避けた</tspan><tspan x="988.1" y="912.4">移動手段</tspan><tspan x="988.1" y="932.1">がない／</tspan><tspan x="988.1" y="951.8">限定される</tspan></text>
<text class="fl"><tspan x="1063" y="873">自分や家</tspan><tspan x="1063" y="892.7">族の家事</tspan><tspan x="1063" y="912.4">の負担が</tspan><tspan x="1063" y="932.1">増える</tspan></text>
<text class="fl"><tspan x="1137.9" y="873">在宅勤務</tspan><tspan x="1137.9" y="892.7">できないた</tspan><tspan x="1137.9" y="912.4">め出勤しな</tspan><tspan x="1137.9" y="932.1">ければなら</tspan><tspan x="1137.9" y="951.8">ない</tspan></text>

<!-- ===== Schedule box ===== -->
<rect x="24" y="1012" width="1145" height="240" fill="#fff" stroke="#d0d0d0" stroke-width="1.5"/>
<text class="sc" x="48" y="1045" textLength="156" lengthAdjust="spacing">＜調査実施時期＞</text>
<text class="sc" x="52" y="1070">▼2020年</text>
<text class="sc" x="420" y="1070">▼2021年</text>
<text class="sc" x="797" y="1070">▼2022年</text>

<text class="sc" x="52" y="1092">第１回（3/12-13）</text>
<text class="sc" x="52" y="1113.7">第２回（3/27-29）</text>
<text class="sc" x="52" y="1135.4">第３回（4/13-14）</text>
<text class="sc" x="52" y="1157.1">第４回（4/24-26）</text>
<text class="sc" x="52" y="1178.8">第５回（5/15-17）</text>
<text class="sc" x="52" y="1200.5">第６回（5/29-31）</text>
<text class="sc" x="52" y="1222.2">第７回（6/12-14）</text>

<text class="sc" x="231" y="1092">第８回（6/26-28）</text>
<text class="sc" x="231" y="1113.7">第９回（7/17-19）</text>
<text class="sh" x="231" y="1135.4">第10回 (8/21-23)</text>
<text class="sh" x="231" y="1157.1">第11回 (9/18-20)</text>
<text class="sh" x="231" y="1178.8">第12回 (10/16-18)</text>
<text class="sh" x="231" y="1200.5">第13回 (11/20-22)</text>
<text class="sh" x="231" y="1222.2">第14回 (12/11-13)</text>

<text class="sh" x="420" y="1092">第15回 (1/22-24)</text>
<text class="sh" x="420" y="1113.7">第16回 (2/19-21)</text>
<text class="sh" x="420" y="1135.4">第17回 (3/26-28)</text>
<text class="sh" x="420" y="1157.1">第18回 (4/23-25)</text>
<text class="sh" x="420" y="1178.8">第19回 (5/28-30)</text>
<text class="sh" x="420" y="1200.5">第20回 (6/25-27)</text>

<text class="sh" x="602" y="1092">第21回 (7/30-8/1)</text>
<text class="sh" x="602" y="1113.7">第22回 (8/27-29)</text>
<text class="sh" x="602" y="1135.4">第23回 (9/24-26)</text>
<text class="sh" x="602" y="1157.1">第24回 (10/22-24)</text>
<text class="sh" x="602" y="1178.8">第25回 (11/26-28)</text>
<text class="sh" x="602" y="1200.5">第26回 (12/24-26)</text>

<text class="sh" x="797" y="1092">第27回 (1/28-30)</text>
<text class="sh" x="797" y="1113.7">第28回 (2/25-27)</text>
<text class="sh" x="797" y="1135.4">第29回 (3/25-27)</text>
<text class="sh" x="797" y="1157.1">第30回 (4/28-5/1)</text>
<text class="sc" x="797" y="1178.8">第31回（5/27-29）</text>
<text class="sc" x="797" y="1200.5">第32回（6/24-26）</text>

<text class="sc" x="977" y="1092">第33回（7/22-24）</text>
<text class="sh" x="977" y="1113.7">第34回 (8/26-28)</text>
<text class="sh" x="977" y="1135.4">第35回 (9/22-25)</text>
<text class="sc" x="977" y="1157.1">第36回（10/28-30）</text>
<text class="sc" x="977" y="1178.8" font-weight="bold" style="fill:#262626;letter-spacing:1px">第37回（11/25-27）</text>
</svg>
</body></html>
